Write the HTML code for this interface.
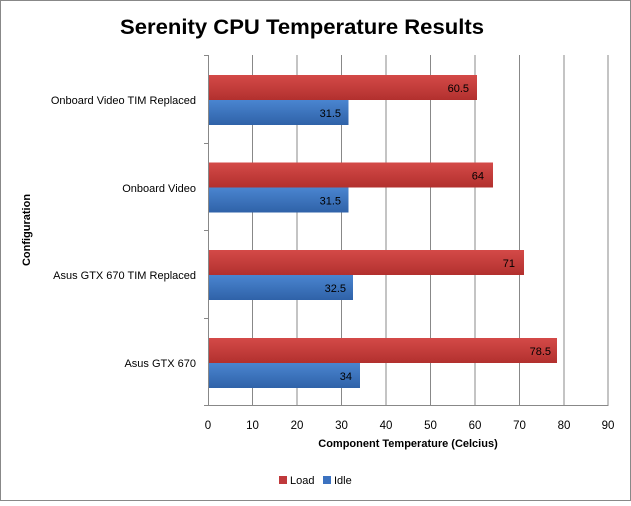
<!DOCTYPE html>
<html><head><style>
body{margin:0;background:#fff;}
svg text{font-family:"Liberation Sans",sans-serif;}
</style></head><body>
<svg width="631" height="501" xmlns="http://www.w3.org/2000/svg">
<defs>
<linearGradient id="r" x1="0" y1="0" x2="0" y2="1"><stop offset="0" stop-color="#d44a48"/><stop offset="1" stop-color="#b2302e"/></linearGradient>
<linearGradient id="b" x1="0" y1="0" x2="0" y2="1"><stop offset="0" stop-color="#4a85d0"/><stop offset="1" stop-color="#2f62a8"/></linearGradient>
</defs>
<rect x="0.5" y="0.5" width="630" height="500" fill="#fff" stroke="#888"/>
<text x="302" y="34" text-anchor="middle" font-size="21" font-weight="bold" textLength="364" lengthAdjust="spacingAndGlyphs">Serenity CPU Temperature Results</text>
<g stroke="#888" stroke-width="1">
<line x1="252.5" y1="55" x2="252.5" y2="406"/><line x1="297" y1="55" x2="297" y2="406"/>
<line x1="341.5" y1="55" x2="341.5" y2="406"/><line x1="386" y1="55" x2="386" y2="406"/>
<line x1="430.5" y1="55" x2="430.5" y2="406"/><line x1="475" y1="55" x2="475" y2="406"/>
<line x1="519.5" y1="55" x2="519.5" y2="406"/><line x1="564" y1="55" x2="564" y2="406"/>
<line x1="608" y1="55" x2="608" y2="406"/>
<line x1="208.5" y1="55" x2="208.5" y2="406"/>
<line x1="204" y1="55.5" x2="208" y2="55.5"/><line x1="204" y1="143.5" x2="208" y2="143.5"/>
<line x1="204" y1="230.5" x2="208" y2="230.5"/><line x1="204" y1="318.5" x2="208" y2="318.5"/>
<line x1="204" y1="405.5" x2="608" y2="405.5"/>
</g>
<g font-size="11">
<rect x="209" y="75" width="268" height="25" fill="url(#r)"/><rect x="209" y="100" width="139.5" height="25" fill="url(#b)"/>
<text x="469" y="92" text-anchor="end">60.5</text><text x="341" y="117" text-anchor="end">31.5</text>
<rect x="209" y="162.5" width="284" height="25" fill="url(#r)"/><rect x="209" y="187.5" width="139.5" height="25" fill="url(#b)"/>
<text x="484" y="179.5" text-anchor="end">64</text><text x="341" y="204.5" text-anchor="end">31.5</text>
<rect x="209" y="250" width="315" height="25" fill="url(#r)"/><rect x="209" y="275" width="144" height="25" fill="url(#b)"/>
<text x="515" y="267" text-anchor="end">71</text><text x="346" y="292" text-anchor="end">32.5</text>
<rect x="209" y="338" width="348" height="25" fill="url(#r)"/><rect x="209" y="363" width="151" height="25" fill="url(#b)"/>
<text x="551" y="355" text-anchor="end">78.5</text><text x="352" y="380" text-anchor="end">34</text>
</g>
<g font-size="11" text-anchor="end">
<text x="196" y="104">Onboard Video TIM Replaced</text>
<text x="196" y="192">Onboard Video</text>
<text x="196" y="279">Asus GTX 670 TIM Replaced</text>
<text x="196" y="367">Asus GTX 670</text>
</g>
<g font-size="11.5" text-anchor="middle">
<text x="208" y="429">0</text><text x="252.5" y="429">10</text><text x="297" y="429">20</text>
<text x="341.5" y="429">30</text><text x="386" y="429">40</text><text x="430.5" y="429">50</text>
<text x="475" y="429">60</text><text x="519.5" y="429">70</text><text x="564" y="429">80</text><text x="608" y="429">90</text>
</g>
<text x="408" y="447" text-anchor="middle" font-size="11" font-weight="bold">Component Temperature (Celcius)</text>
<text transform="translate(30,230) rotate(-90)" text-anchor="middle" font-size="11" font-weight="bold">Configuration</text>
<rect x="279" y="476" width="8" height="8" fill="#c0393b"/><text x="290" y="484" font-size="11">Load</text>
<rect x="323" y="476" width="8" height="8" fill="#3c72c0"/><text x="334" y="484" font-size="11">Idle</text>
</svg>
</body></html>
